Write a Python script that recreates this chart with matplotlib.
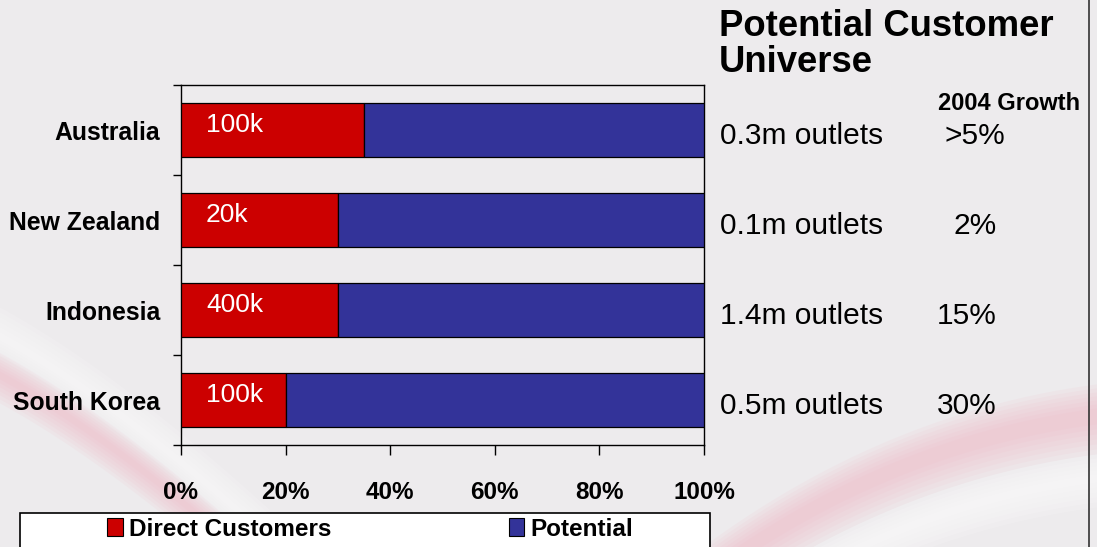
import matplotlib
matplotlib.use('Agg')
import matplotlib.pyplot as plt
import numpy as np
from matplotlib.patches import Rectangle, Polygon, Patch
from matplotlib import transforms

# ---- data ----
countries = ['Australia', 'New Zealand', 'Indonesia', 'South Korea']
direct_pct = [35, 30, 30, 20]
potential_pct = [65, 70, 70, 80]
direct_labels = ['100k', '20k', '400k', '100k']
outlets = ['0.3m outlets', '0.1m outlets', '1.4m outlets', '0.5m outlets']
growth = ['>5%', '2%', '15%', '30%']
xtick_vals = [0, 20, 40, 60, 80, 100]
xtick_labels = ['0%', '20%', '40%', '60%', '80%', '100%']
series_names = ['Direct Customers', 'Potential']

RED = '#CC0000'
BLUE = '#333399'
BG = '#EDEBED'

plt.rcParams['font.family'] = ['Liberation Sans', 'DejaVu Sans']

W, H = 1097, 547
fig = plt.figure(figsize=(W / 100, H / 100), dpi=100)
fig.patch.set_facecolor(BG)

# ---- decorative background swooshes ----
bg = fig.add_axes([0, 0, 1, 1], zorder=-10)
bg.set_xlim(0, W)
bg.set_ylim(H, 0)
bg.axis('off')


def bezier(p0, p1, p2, n=100):
    t = np.linspace(0, 1, n)[:, None]
    return (1 - t) ** 2 * np.array(p0) + 2 * (1 - t) * t * np.array(p1) + t ** 2 * np.array(p2)


def band(p0, p1, p2, off_top, off_bot, color, alpha):
    c = bezier(p0, p1, p2)
    top = c + np.array([0, off_top])
    bot = c + np.array([0, off_bot])
    pts = np.vstack([top, bot[::-1]])
    bg.add_patch(Polygon(pts, closed=True, fc=color, ec='none', alpha=alpha))


# left swoosh: white highlight above, pink band below
L = ((-10, 362), (110, 425), (270, 570))
for k in range(6):
    band(*L, -60 + 5 * k, -12 - 3 * k, '#FFFFFF', 0.12)
for k in range(7):
    band(*L, -14 + 3 * k, 36 - 4 * k, '#EFB4C3', 0.10)

# right swoosh: pink band, white highlight below
R = ((690, 565), (880, 420), (1100, 392))
for k in range(7):
    band(*R, -8 + 4 * k, 62 - 5 * k, '#EFB4C3', 0.10)
for k in range(6):
    band(*R, 62 + 4 * k, 115 - 5 * k, '#FFFFFF', 0.14)

# slide frame line on the right
bg.plot([1089, 1089], [0, H], color='#333333', lw=1.2)

# ---- main chart ----
ax = fig.add_axes([181 / W, 1 - 445 / H, (704 - 181) / W, (445 - 85) / H])
ax.set_facecolor('none')
y = np.arange(len(countries))
ax.barh(y, direct_pct, height=0.61, color=RED, edgecolor='black', linewidth=0.9, zorder=3)
ax.barh(y, potential_pct, left=direct_pct, height=0.61, color=BLUE, edgecolor='black',
        linewidth=0.9, zorder=3)
ax.set_xlim(0, 100)
ax.set_ylim(len(countries) - 0.5, -0.5)

for s in ax.spines.values():
    s.set_color('black')
    s.set_linewidth(1.0)

ax.set_xticks(xtick_vals)
ax.set_xticklabels(xtick_labels, fontsize=17.5, fontweight='bold')
ax.tick_params(axis='x', direction='out', length=7, width=1, pad=19)

ax.set_yticks(np.arange(len(countries) + 1) - 0.5)
ax.set_yticklabels([])
ax.tick_params(axis='y', which='major', direction='out', length=6, width=1)
ax.set_yticks(y, minor=True)
ax.set_yticklabels(countries, minor=True, fontsize=17.8, fontweight='bold')
ax.tick_params(axis='y', which='minor', length=0, pad=15)

for i, lab in enumerate(direct_labels):
    ax.text(4.8, i - 0.06, lab, color='white', fontsize=19, va='center', ha='left', zorder=5)

# ---- right-hand annotations ----
trans = transforms.blended_transform_factory(fig.transFigure, ax.transData)
for i, (o, g) in enumerate(zip(outlets, growth)):
    fig.text(720 / W, i + 0.07, o, transform=trans, fontsize=21.5, va='center', ha='left')
    gx = 1005 if i == 0 else 997
    fig.text(gx / W, i + 0.07, g, transform=trans, fontsize=21.5, va='center', ha='right')

fig.text(719 / W, 1 - 9 / H, 'Potential Customer\nUniverse', fontsize=26.3, fontweight='bold',
         va='top', ha='left', linespacing=1.03)
fig.text(938 / W, 1 - 103 / H, '2004 Growth', fontsize=17, fontweight='bold',
         va='center', ha='left')

# ---- legend box ----
fig.add_artist(Rectangle((20 / W, -0.02), 690 / W, (547 - 513) / H + 0.02,
                         transform=fig.transFigure, fc='white', ec='black', lw=1.2))
handles = [Patch(fc=RED, ec='black', lw=0.8), Patch(fc=BLUE, ec='black', lw=0.8)]
fig.legend(handles, series_names, loc='center left', bbox_to_anchor=(107 / W, 1 - 529 / H),
           ncol=2, frameon=False, borderpad=0, borderaxespad=0, handlelength=0.65,
           handleheight=0.7, handletextpad=0.25, columnspacing=7.3,
           prop={'weight': 'bold', 'size': 17.5})

fig.savefig('out.png', dpi=100, facecolor=fig.get_facecolor())
